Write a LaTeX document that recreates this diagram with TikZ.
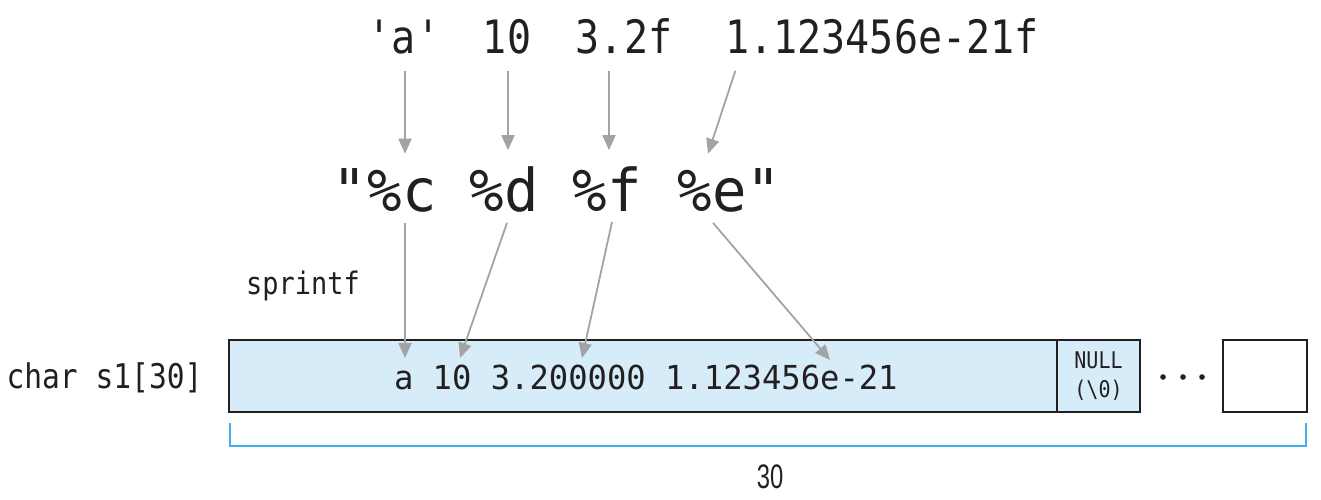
\documentclass[tikz,border=0pt]{standalone}
\usepackage{fontspec}
\usetikzlibrary{arrows.meta,calc}
\newfontfamily\monoA[FakeStretch=0.87]{DejaVu Sans Mono}
\newfontfamily\monoB[FakeStretch=0.97]{DejaVu Sans Mono}
\newfontfamily\monoC[FakeStretch=0.975]{DejaVu Sans Mono}
\newfontfamily\condsans[FakeStretch=0.7]{Liberation Sans}
\definecolor{ink}{HTML}{231F20}
\definecolor{cellblue}{HTML}{D6ECF9}
\definecolor{brk}{HTML}{3BB4E8}
\definecolor{arrgray}{HTML}{A3A3A3}
\begin{document}
\begin{tikzpicture}[x=1pt,y=-1pt,
  txt/.style={inner sep=0pt, outer sep=0pt, anchor=base, text=ink},
  toptok/.style={txt, font=\monoA\fontsize{46}{50}\selectfont},
  fmttok/.style={txt, font=\monoB\fontsize{59}{64}\selectfont},
  cell/.style={draw=ink, line width=2pt, minimum height=72pt, inner sep=0pt, outer sep=0pt},
  arr/.style={draw=arrgray, line width=1.8pt, -{Triangle[length=15pt,width=13pt]}},
]
\useasboundingbox (0,0) rectangle (1321,500);

% top values
\node[toptok] (qa)  at (404,54) {'a'};
\node[toptok] (q10) at (507,54) {10};
\node[toptok] (q32) at (624,54) {3.2f};
\node[toptok] (qe)  at (882,54) {1.123456e-21f};

% format string
\node[fmttok] (oq) at (350,211) {"};
\node[fmttok] (fc) at (402,211) {\%c};
\node[fmttok] (fd) at (504,211) {\%d};
\node[fmttok] (ff) at (607,211) {\%f};
\node[fmttok] (fe) at (712,211) {\%e};
\node[fmttok] (cq) at (764,211) {"};

% labels
\node[txt, font=\monoA\fontsize{31}{34}\selectfont] (fn) at (303,294) {sprintf};
\node[txt, font=\monoA\fontsize{34}{38}\selectfont] (decl) at (104.5,388) {char s1[30]};

% array cells
\node[cell, fill=cellblue, minimum width=828pt] (main) at (643,376) {};
\node[cell, fill=cellblue, minimum width=83pt, align=center, text=ink,
      font=\monoA\fontsize{23}{29}\selectfont] (nul) at (1098.5,376) {NULL\\(\textbackslash 0)};
\node[cell, fill=white, minimum width=84pt] (last) at (1265,376) {};
\node[txt, anchor=base west, font=\monoC\fontsize{33}{36}\selectfont] (buf) at (394,389) {a 10 3.200000 1.123456e-21};

% dots
\foreach \x in {1163,1183,1202} \fill[ink] (\x,377) circle (2.8pt);

% length bracket
\draw[brk, line width=2pt] ($(main.south west)+(0.5,11)$) -- ($(main.south west)+(0.5,34)$) -| ($(last.south east)+(-1,11)$);
\node[txt, font=\condsans\fontsize{34}{38}\selectfont] (len) at (770,488) {30};

% arrows: values -> specifiers
\draw[arr] ($(qa.south)+(1,16)$) -- ($(qa.south |- fc.north)+(1,-16)$);
\draw[arr] ($(q10.south)+(1,16)$) -- ($(q10.south |- fd.north)+(1,-16)$);
\draw[arr] ($(q32.south)+(-15,16)$) -- ($(q32.south |- ff.north)+(-15,-16)$);
\draw[arr] ($(qe.south west)+(10,16)$) -- ($(fe.north)+(-4,-16)$);

% arrows: specifiers -> buffer
\draw[arr] ($(fc.south)+(3,11)$) -- ($(main.north west)+(176,18)$);
\draw[arr] ($(fd.south)+(3,11)$) -- ($(main.north west)+(231,18)$);
\draw[arr] ($(ff.south)+(5,11)$) -- ($(main.north west)+(353,18)$);
\draw[arr] ($(fe.south)+(1,11)$) -- ($(main.north west)+(601,20)$);
\end{tikzpicture}
\end{document}
